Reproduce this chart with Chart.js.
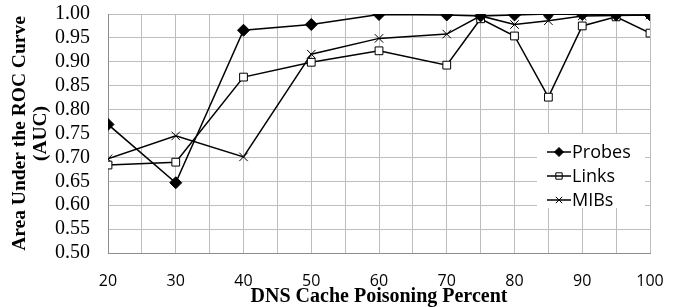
<!DOCTYPE html>
<html>
<head>
<meta charset="utf-8">
<script src="https://cdn.jsdelivr.net/npm/chart.js@4"></script>
<style>
  html, body { margin: 0; padding: 0; background: #fff; }
  #wrap { width: 678px; height: 307px; }
</style>
</head>
<body>
<div id="wrap"><canvas id="grafica" width="678" height="307"></canvas></div>
<script>
// Porcentaje de envenenamiento de caché DNS (eje x)
var percents = [20, 30, 40, 50, 60, 70, 75, 80, 85, 90, 95, 100];
var probes = [0.769, 0.647, 0.966, 0.978, 0.999, 0.998, 0.996, 0.998, 1.000, 0.999, 0.998, 0.998];
var links  = [0.684, 0.690, 0.868, 0.899, 0.923, 0.893, 0.990, 0.954, 0.826, 0.975, 0.994, 0.960];
var mibs   = [0.697, 0.745, 0.701, 0.916, 0.949, 0.958, 0.996, 0.978, 0.986, 0.996, 0.997, 0.998];

function puntos(valores) {
    return percents.map(function (p, i) { return { x: p, y: valores[i] }; });
}

// Leyenda dibujada dentro del área del gráfico
var leyendaInterna = {
    id: 'leyendaInterna',
    afterDraw: function (chart) {
        var ctx = chart.ctx;
        var x0 = 537, y0 = 134;
        ctx.save();
        ctx.fillStyle = '#fff';
        ctx.fillRect(x0, y0, 108, 74);
        ctx.font = '18px "Open Sans", "Liberation Sans", sans-serif';
        ctx.textBaseline = 'middle';
        chart.data.datasets.forEach(function (ds, i) {
            var y = 152 + i * 24;
            ctx.fillStyle = ds.label === 'Links' ? 'rgba(0,0,0,0)' : '#000';
            ctx.strokeStyle = '#000';
            ctx.lineWidth = 1;
            Chart.helpers.drawPoint(ctx, {
                pointStyle: ds.pointStyle,
                radius: 4.5,
                borderWidth: 1
            }, 559, y);
            ctx.strokeStyle = '#000';
            ctx.lineWidth = 1.5;
            ctx.beginPath();
            ctx.moveTo(547, y);
            ctx.lineTo(571, y);
            ctx.stroke();
            ctx.fillStyle = '#000';
            ctx.fillText(ds.label, 572, y + 1);
        });
        ctx.restore();
    }
};

var ctxAuc = document.getElementById('grafica').getContext('2d');
var grafica = new Chart(ctxAuc, {
    type: 'line',
    data: {
        datasets: [{
            label: 'Probes',
            data: puntos(probes),
            borderColor: '#000',
            borderWidth: 1.5,
            pointStyle: 'rectRot',
            pointRadius: 6,
            pointBackgroundColor: '#000',
            pointBorderColor: '#000',
            pointBorderWidth: 1
        }, {
            label: 'Links',
            data: puntos(links),
            borderColor: '#000',
            borderWidth: 1.5,
            pointStyle: 'rect',
            pointRadius: 5.5,
            pointBackgroundColor: '#fff',
            pointBorderColor: '#000',
            pointBorderWidth: 1
        }, {
            label: 'MIBs',
            data: puntos(mibs),
            borderColor: '#000',
            borderWidth: 1.5,
            pointStyle: 'crossRot',
            pointRadius: 6,
            pointBackgroundColor: '#000',
            pointBorderColor: '#000',
            pointBorderWidth: 1
        }]
    },
    options: {
        responsive: false,
        animation: false,
        layout: { padding: { top: 14, right: 28, left: 0, bottom: 0 } },
        plugins: {
            legend: { display: false },
            tooltip: { enabled: false }
        },
        scales: {
            x: {
                type: 'linear',
                min: 20,
                max: 100,
                ticks: {
                    stepSize: 5,
                    autoSkip: false,
                    color: '#000',
                    font: { family: '"Open Sans", "Liberation Sans", sans-serif', size: 16 },
                    padding: 19,
                    maxRotation: 0,
                    callback: function (v) { return v % 10 === 0 ? v : ''; }
                },
                grid: { color: '#bdbdbd', drawTicks: false },
                border: { color: '#8c8c8c' },
                title: {
                    display: true,
                    text: 'DNS Cache Poisoning Percent',
                    color: '#000',
                    font: { family: '"Liberation Serif", serif', size: 20, weight: 'bold', lineHeight: 1 },
                    padding: { top: 0, bottom: 0 }
                },
                afterFit: function (scale) {
                    scale.height = 54;
                    scale.paddingLeft = 0;
                    scale.paddingRight = 0;
                }
            },
            y: {
                min: 0.5,
                max: 1.0,
                ticks: {
                    stepSize: 0.05,
                    autoSkip: false,
                    color: '#000',
                    font: { family: '"Liberation Serif", serif', size: 20, lineHeight: 1 },
                    padding: 18,
                    callback: function (v) { return v.toFixed(2); }
                },
                grid: { color: '#bdbdbd', drawTicks: false },
                border: { color: '#8c8c8c' },
                title: {
                    display: true,
                    text: ['Area Under the ROC Curve', '(AUC)'],
                    color: '#000',
                    font: { family: '"Liberation Serif", serif', size: 19.5, weight: 'bold', lineHeight: 1.05 },
                    padding: { top: 10, bottom: 0 }
                },
                afterFit: function (scale) {
                    scale.width = 108;
                    scale.paddingTop = 0;
                    scale.paddingBottom = 0;
                }
            }
        }
    },
    plugins: [leyendaInterna]
});
</script>
</body>
</html>
